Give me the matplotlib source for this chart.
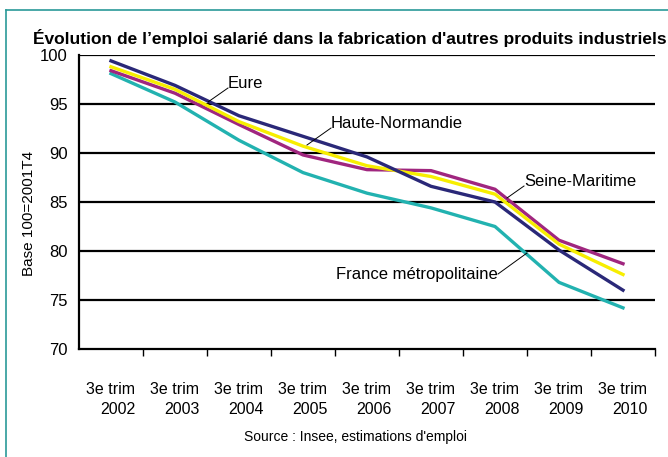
import numpy as np
import matplotlib
matplotlib.use("Agg")
import matplotlib.pyplot as plt
from matplotlib.lines import Line2D

years = ["2002", "2003", "2004", "2005", "2006", "2007", "2008", "2009", "2010"]
tick_labels = ["3e trim\n" + y for y in years]

eure = [99.4, 96.9, 93.8, 91.7, 89.6, 86.6, 85.0, 80.1, 76.0]
haute_normandie = [98.8, 96.5, 93.2, 90.7, 88.7, 87.6, 85.8, 80.7, 77.6]
seine_maritime = [98.4, 96.1, 92.9, 89.8, 88.3, 88.2, 86.3, 81.1, 78.7]
france = [98.1, 95.2, 91.3, 88.0, 85.9, 84.4, 82.5, 76.8, 74.2]

navy = "#2a2878"
yellow = "#f7ee00"
magenta = "#a0267f"
cyan = "#22b2b0"

plt.rcParams['font.family'] = ['Liberation Sans', 'DejaVu Sans']

fig = plt.figure(figsize=(6.68, 4.57), dpi=100)
W, H = 668, 457

# teal frame (left and top)
teal = "#2a9a98"
fig.add_artist(Line2D([6 / W, 6 / W], [0, 1 - 10 / H], color=teal, lw=1.2, transform=fig.transFigure))
fig.add_artist(Line2D([6 / W, 1], [1 - 10 / H, 1 - 10 / H], color=teal, lw=1.2, transform=fig.transFigure))

ax = fig.add_axes([79 / W, 1 - 349 / H, 576 / W, 294 / H])
x = np.arange(len(years))

ax.plot(x, france, color=cyan, lw=2.4, solid_joinstyle='round')
ax.plot(x, seine_maritime, color=magenta, lw=2.4, solid_joinstyle='round')
ax.plot(x, haute_normandie, color=yellow, lw=2.4, solid_joinstyle='round')
ax.plot(x, eure, color=navy, lw=2.4, solid_joinstyle='round')

ax.set_xlim(-0.5, 8.5)
ax.set_ylim(70, 100)
ax.set_yticks([70, 75, 80, 85, 90, 95, 100])
ax.tick_params(axis='y', length=0, labelsize=12, pad=8)
for yv in [75, 80, 85, 90, 95, 100]:
    ax.axhline(yv, color="black", lw=1.6, zorder=0)

ax.set_xticks(x)
ax.set_xticklabels(tick_labels, fontsize=11.5, multialignment='right', linespacing=1.4)
ax.set_xticks(np.arange(0.5, 9, 1), minor=True)
ax.tick_params(axis='x', which='major', length=0, pad=24)
ax.tick_params(axis='x', which='minor', length=5, width=1, direction='out')

for s in ["top", "right"]:
    ax.spines[s].set_visible(False)
for s in ["left", "bottom"]:
    ax.spines[s].set_linewidth(1.6)

ax.set_ylabel("Base 100=2001T4", fontsize=11)
ax.yaxis.set_label_coords(-43 / 576, 0.46)

fig.text(350 / W, 1 - 38 / H,
         "Évolution de l’emploi salarié dans la fabrication d'autres produits industriels",
         ha="center", va="center", fontsize=12.5, fontweight="bold")
fig.text(355 / W, 1 - 437 / H, "Source : Insee, estimations d'emploi", ha="center", va="center", fontsize=10)


# annotations with leader lines
def label(text, tx, ty, lx, ly, ha="left"):
    fig.text(tx / W, 1 - ty / H, text, ha=ha, va="center", fontsize=12)
    fig.add_artist(Line2D([lx[0] / W, lx[1] / W], [1 - ly[0] / H, 1 - ly[1] / H],
                          color="black", lw=0.7, transform=fig.transFigure))


label("Eure", 228, 84, (228, 208), (88, 102))
label("Haute-Normandie", 331, 124, (331, 307), (128, 145))
label("Seine-Maritime", 524, 182, (524, 507), (186, 198))
label("France métropolitaine", 498, 274, (498, 527), (274, 253), ha="right")

fig.savefig("out.png", dpi=100)
